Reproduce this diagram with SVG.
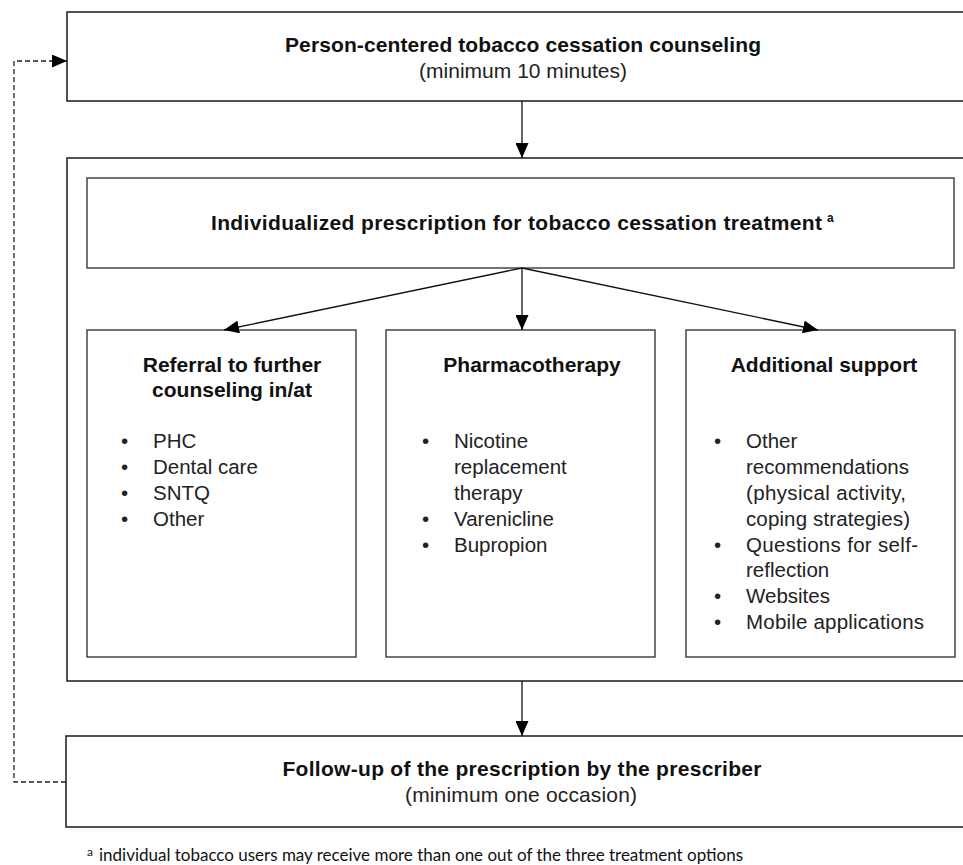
<svg xmlns="http://www.w3.org/2000/svg" width="963" height="865" viewBox="0 0 963 865">
<style>
.box{fill:#fff;stroke:#1a1a1a;stroke-width:1.5}
.inner{fill:#fff;stroke:#2a2a2a;stroke-width:1.3}
.b{font-family:"Liberation Sans",Arial,sans-serif;font-weight:bold;font-size:21px;fill:#111}
.r{font-family:"Liberation Sans",Arial,sans-serif;font-size:20.5px;fill:#222}
.fn{font-family:Lato,"Open Sans",sans-serif;font-size:17px;fill:#111}
.sup{font-size:12px}
.conn{stroke:#111;stroke-width:1.3;fill:none}
.dash{stroke:#222;stroke-width:1.3;fill:none;stroke-dasharray:5,3}
</style>
<defs>
<marker id="ah" viewBox="0 0 15 13" refX="15" refY="6.5" markerWidth="15" markerHeight="13" markerUnits="userSpaceOnUse" orient="auto">
<path d="M0,0 L15,6.5 L0,13 z" fill="#000"/>
</marker>
</defs>
<rect width="963" height="865" fill="#fff"/>

<g id="counseling">
<rect class="box" x="67" y="12" width="920" height="89"/>
<text class="b" x="523" y="52" text-anchor="middle" textLength="476" lengthAdjust="spacing">Person-centered tobacco cessation counseling</text>
<text class="r" x="523" y="78" text-anchor="middle" style="font-size:21px" textLength="208" lengthAdjust="spacing">(minimum  10 minutes)</text>
</g>

<g id="container">
<rect class="box" x="67" y="158" width="920" height="523"/>
</g>

<g id="prescription">
<rect class="inner" x="87" y="178" width="867" height="90"/>
<text class="b" x="211" y="230" textLength="611" lengthAdjust="spacing">Individualized  prescription  for tobacco cessation treatment</text>
<text class="b" x="827" y="222" style="font-size:12px">a</text>
</g>

<g id="referral">
<rect class="inner" x="87" y="330" width="269" height="327"/>
<text class="b" x="232" y="372" text-anchor="middle">Referral to further</text>
<text class="b" x="232" y="397" text-anchor="middle">counseling  in/at</text>
<text class="r" x="121" y="448">•</text><text class="r" x="153" y="448">PHC</text>
<text class="r" x="121" y="474">•</text><text class="r" x="153" y="474">Dental care</text>
<text class="r" x="121" y="500">•</text><text class="r" x="153" y="500">SNTQ</text>
<text class="r" x="121" y="526">•</text><text class="r" x="153" y="526">Other</text>
</g>

<g id="pharmacotherapy">
<rect class="inner" x="386" y="330" width="269" height="327"/>
<text class="b" x="532" y="372" text-anchor="middle">Pharmacotherapy</text>
<text class="r" x="422" y="448">•</text><text class="r" x="454" y="448">Nicotine</text>
<text class="r" x="454" y="474">replacement</text>
<text class="r" x="454" y="500">therapy</text>
<text class="r" x="422" y="526">•</text><text class="r" x="454" y="526">Varenicline</text>
<text class="r" x="422" y="552">•</text><text class="r" x="454" y="552">Bupropion</text>
</g>

<g id="support">
<rect class="inner" x="686" y="330" width="269" height="327"/>
<text class="b" x="824" y="372" text-anchor="middle">Additional  support</text>
<text class="r" x="714" y="448">•</text><text class="r" x="746" y="448">Other</text>
<text class="r" x="746" y="474">recommendations</text>
<text class="r" x="746" y="500" textLength="160" lengthAdjust="spacing">(physical activity,</text>
<text class="r" x="746" y="526" textLength="164" lengthAdjust="spacing">coping strategies)</text>
<text class="r" x="714" y="552">•</text><text class="r" x="746" y="552" textLength="172" lengthAdjust="spacing">Questions  for self-</text>
<text class="r" x="746" y="577">reflection</text>
<text class="r" x="714" y="603">•</text><text class="r" x="746" y="603">Websites</text>
<text class="r" x="714" y="629">•</text><text class="r" x="746" y="629" textLength="178" lengthAdjust="spacing">Mobile  applications</text>
</g>

<g id="followup">
<rect class="box" x="66" y="736" width="921" height="91"/>
<text class="b" x="522" y="776" text-anchor="middle" textLength="479" lengthAdjust="spacing">Follow-up of the prescription  by the prescriber</text>
<text class="r" x="521" y="802" text-anchor="middle" style="font-size:21px" textLength="232" lengthAdjust="spacing">(minimum  one occasion)</text>
</g>

<g id="footnote">
<text class="fn" x="87" y="856" style="font-size:12px">a</text>
<text class="fn" x="99" y="861" textLength="644" lengthAdjust="spacing">individual tobacco users may receive more than one out of the three treatment options</text>
</g>

<g id="connectors">
<line class="conn" x1="522" y1="101" x2="522" y2="158" marker-end="url(#ah)"/>
<line class="conn" x1="522" y1="268" x2="224" y2="330" marker-end="url(#ah)"/>
<line class="conn" x1="522" y1="268" x2="522" y2="330" marker-end="url(#ah)"/>
<line class="conn" x1="522" y1="268" x2="818" y2="330" marker-end="url(#ah)"/>
<line class="conn" x1="522" y1="681" x2="522" y2="736" marker-end="url(#ah)"/>
<path class="dash" d="M66,782 H14 V61 H67" marker-end="url(#ah)"/>
</g>
</svg>
